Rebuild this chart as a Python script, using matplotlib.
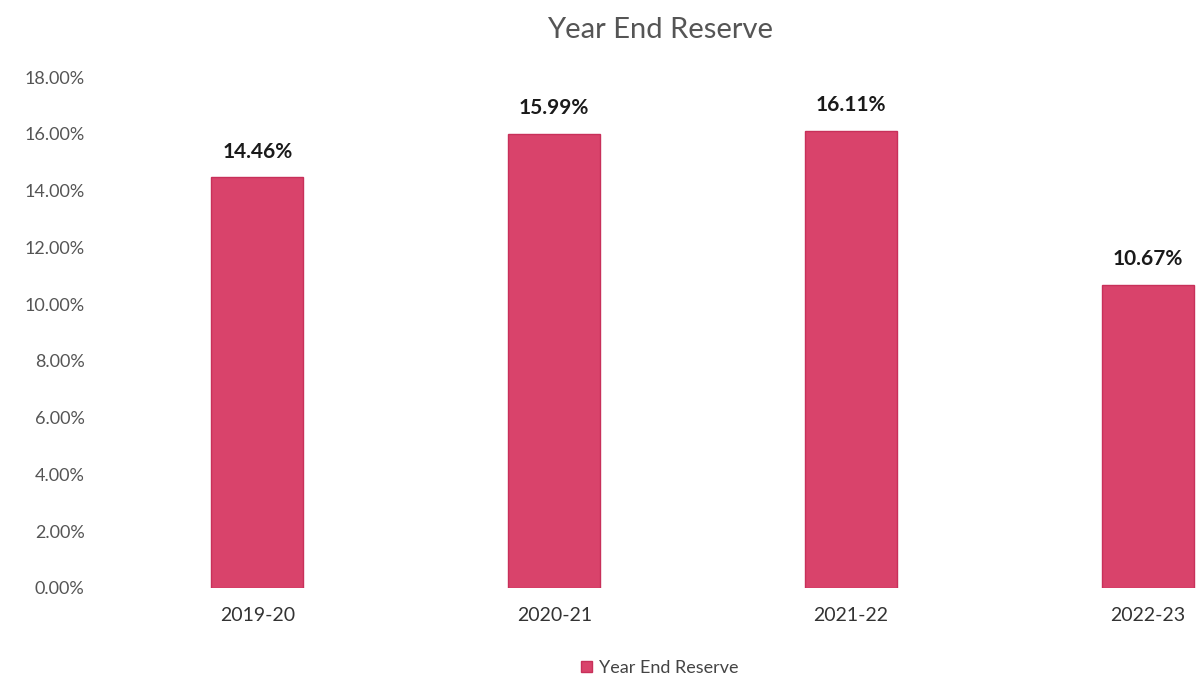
import matplotlib
matplotlib.use('Agg')
from matplotlib import pyplot as plt

years = ['2019-20', '2020-21', '2021-22', '2022-23']
reserve = [14.46, 15.99, 16.11, 10.67]
yticks = [0, 2, 4, 6, 8, 10, 12, 14, 16, 18]

plt.rcParams['font.family'] = ['Lato', 'DejaVu Sans']
bar_color = '#d9436b'

fig = plt.figure(figsize=(11.97, 6.84), dpi=100)
ax = fig.add_axes([100/1197, 96/684, 1 - 100/1197, (588-77)/684])

x = list(range(len(years)))
bars = ax.bar(x, reserve, width=0.31, color=bar_color, edgecolor='#c8305a', linewidth=1,
              label='Year End Reserve')
for xi, v in zip(x, reserve):
    ax.text(xi, v + 0.55, '%.2f%%' % v, ha='center', va='bottom',
            fontsize=15, fontweight='bold', color='#1a1a1a')

ax.set_xlim(-0.53, 3.165)
ax.set_ylim(0, 18)
ax.set_yticks(yticks)
ax.set_yticklabels(['%.2f%%' % t for t in yticks])
ax.set_xticks(x)
ax.set_xticklabels(years)
ax.tick_params(axis='y', length=0, pad=11, labelsize=13, labelcolor='#555555')
ax.tick_params(axis='x', length=0, pad=14, labelsize=14, labelcolor='#333333')
for s in ax.spines.values():
    s.set_visible(False)

fig.text(660/1197, 1 - 30/684, 'Year End Reserve', ha='center', va='center',
         fontsize=21, color='#555555')
fig.legend(handles=[bars], labels=['Year End Reserve'], loc='center',
           bbox_to_anchor=(660/1197, 1 - 668/684), frameon=False, fontsize=13,
           handlelength=0.6, handleheight=0.6, handletextpad=0.4, labelcolor='#444444')

fig.savefig('out.png', dpi=100)
